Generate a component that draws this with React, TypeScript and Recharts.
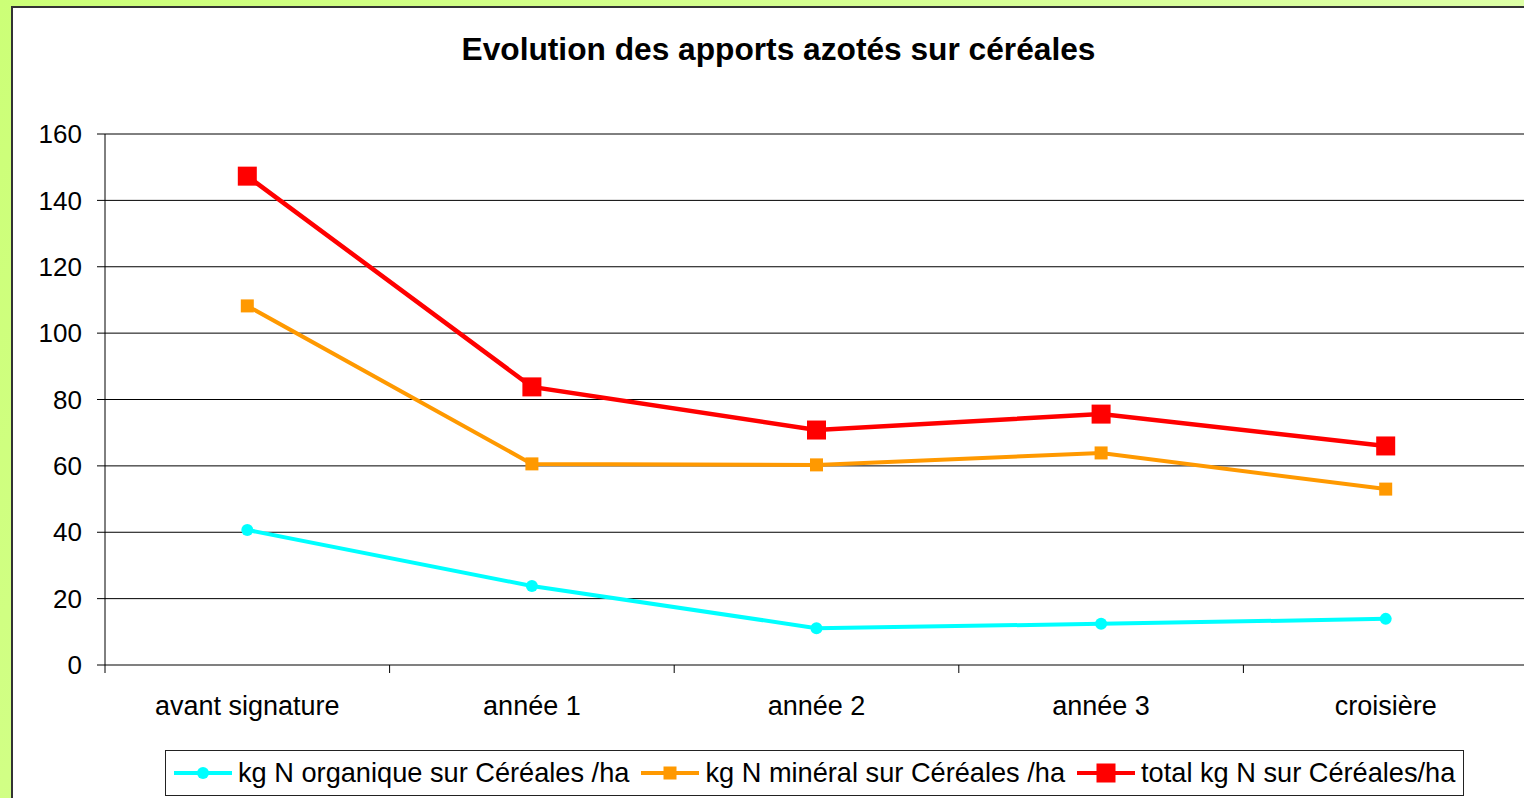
import React from "react"
import { LineChart, Line, XAxis, YAxis, CartesianGrid, Legend } from "recharts"

// données
const categories = ["avant signature", "année 1", "année 2", "année 3", "croisière"]
const organique = [40.7, 23.8, 11.1, 12.4, 13.9]
const mineral = [108.2, 60.6, 60.3, 63.9, 53.0]
const total = [147.3, 83.8, 70.8, 75.6, 66.0]
const yTicks = [0, 20, 40, 60, 80, 100, 120, 140, 160]

const seriesInfo = [
    { key: "organique", name: "kg N organique sur Céréales /ha", color: "#00FFFF", shape: "circle", size: 12 },
    { key: "mineral", name: "kg N minéral sur Céréales /ha", color: "#FF9900", shape: "square", size: 13 },
    { key: "total", name: "total kg N sur Céréales/ha", color: "#FF0000", shape: "square", size: 19 }
]

const data = categories.map((c, i) => ({
    cat: c,
    organique: organique[i],
    mineral: mineral[i],
    total: total[i]
}))

const FONT = "'Liberation Sans', Arial, sans-serif"

const makeDot = (color: string, shape: string, size: number) => (props: any) => {
    const { cx, cy, index } = props
    if (cx == null || cy == null) return <g key={index} />
    if (shape === "circle") {
        return <circle key={index} cx={cx} cy={cy} r={size / 2} fill={color} />
    }
    return <rect key={index} x={cx - size / 2} y={cy - size / 2} width={size} height={size} fill={color} />
}

const XTick = (props: any) => {
    const { x, y, payload } = props
    const half = payload && payload.offset ? payload.offset : 142
    return (
        <g>
            <line x1={x - half} x2={x - half} y1={y} y2={y + 8} stroke="#000" />
            <text x={x} y={y + 50} textAnchor="middle" fontSize={27} fontFamily={FONT} fill="#000">
                {payload.value}
            </text>
        </g>
    )
}

const LegendBox = () => (
    <div
        style={{
            width: 1297,
            height: 44,
            border: "1px solid #222",
            background: "#fff",
            display: "flex",
            alignItems: "center",
            fontFamily: FONT,
            fontSize: 27.2,
            color: "#000",
            boxSizing: "content-box",
            whiteSpace: "nowrap"
        }}
    >
        {seriesInfo.map((s, i) => (
            <div key={s.key} style={{ display: "flex", alignItems: "center", marginLeft: i === 0 ? 8 : 12 }}>
                <svg width={58} height={24} style={{ marginRight: 6 }}>
                    <line x1={0} x2={58} y1={12} y2={12} stroke={s.color} strokeWidth={4} />
                    {s.shape === "circle" ? (
                        <circle cx={29} cy={12} r={s.size / 2} fill={s.color} />
                    ) : (
                        <rect x={29 - s.size / 2} y={12 - s.size / 2} width={s.size} height={s.size} fill={s.color} />
                    )}
                </svg>
                <span>{s.name}</span>
            </div>
        ))}
    </div>
)

export default function App() {
    return (
        <div
            style={{
                position: "absolute",
                left: 0,
                top: 0,
                width: 1524,
                height: 798,
                overflow: "hidden",
                background: "linear-gradient(120deg, #ccff77 0%, #e2ffb4 100%)"
            }}
        >
            <div
                style={{
                    position: "absolute",
                    left: 11,
                    top: 6,
                    width: 1540,
                    height: 820,
                    background: "#fff",
                    borderLeft: "2px solid #333",
                    borderTop: "2px solid #333"
                }}
            />
            <div
                style={{
                    position: "absolute",
                    left: 0,
                    top: 31,
                    width: 1557,
                    textAlign: "center",
                    fontFamily: FONT,
                    fontWeight: "bold",
                    fontSize: 31.7,
                    lineHeight: "36px",
                    color: "#000"
                }}
            >
                Evolution des apports azotés sur céréales
            </div>
            <div style={{ position: "absolute", left: 0, top: 0 }}>
                <LineChart width={1543} height={798} data={data} margin={{ top: 134, right: 15, left: 0, bottom: 0 }}>
                    <CartesianGrid vertical={false} stroke="#000" strokeWidth={1} />
                    <XAxis
                        dataKey="cat"
                        scale="band"
                        height={87}
                        tickLine={false}
                        tickSize={0}
                        tickMargin={0}
                        tick={<XTick />}
                        interval={0}
                        axisLine={{ stroke: "#808080", strokeWidth: 2 }}
                    />
                    <YAxis
                        width={105}
                        domain={[0, 160]}
                        ticks={yTicks}
                        interval={0}
                        tickSize={8}
                        tickMargin={15}
                        axisLine={{ stroke: "#000" }}
                        tickLine={{ stroke: "#000" }}
                        tick={{ fontSize: 26, fontFamily: FONT, fill: "#000" }}
                    />
                    <Legend
                        content={<LegendBox />}
                        wrapperStyle={{ position: "absolute", left: 165, top: 750, width: "auto", bottom: "auto" }}
                    />
                    {seriesInfo.map((s) => (
                        <Line
                            key={s.key}
                            type="linear"
                            dataKey={s.key}
                            name={s.name}
                            stroke={s.color}
                            strokeWidth={s.key === "total" ? 4.5 : 4}
                            dot={makeDot(s.color, s.shape, s.size)}
                            activeDot={false}
                            isAnimationActive={false}
                        />
                    ))}
                </LineChart>
            </div>
        </div>
    )
}
